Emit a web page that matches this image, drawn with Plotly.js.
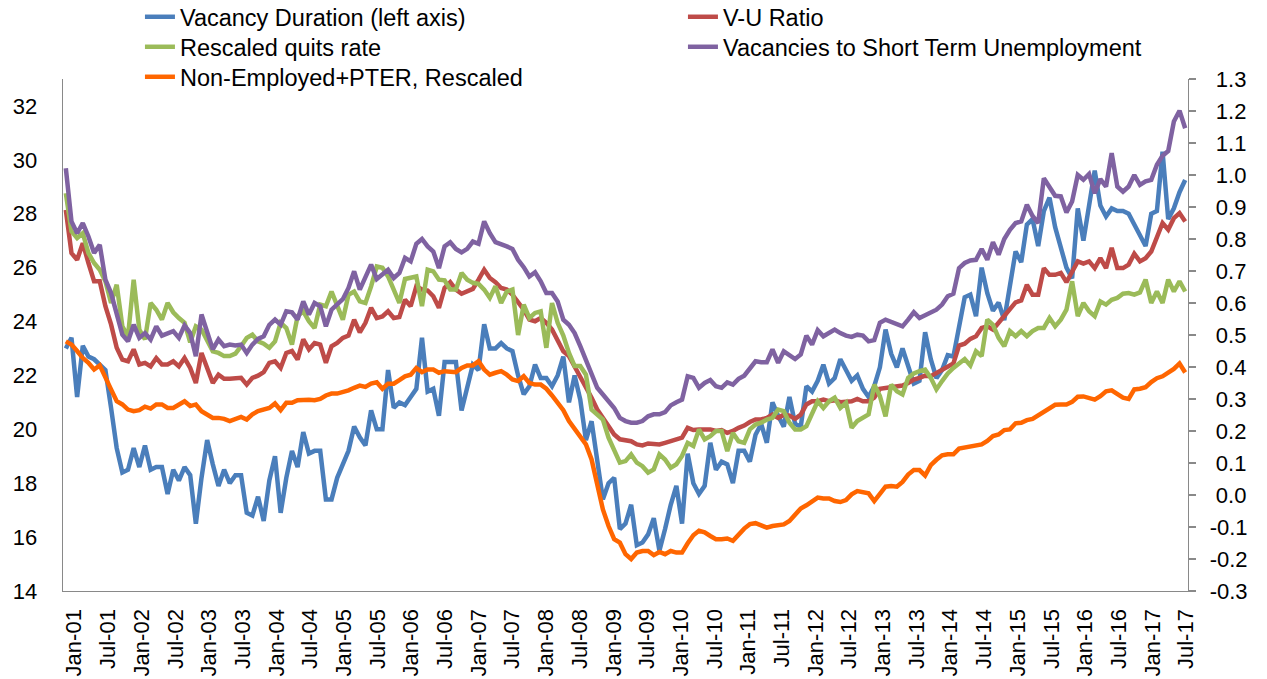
<!DOCTYPE html>
<html>
<head>
<meta charset="utf-8">
<script src="https://cdn.plot.ly/plotly-3.0.1.min.js"></script>
<style>
  html, body { margin: 0; padding: 0; background: #ffffff; }
  #chart { width: 1267px; height: 679px; }
</style>
</head>
<body>
<div id="chart"></div>
<script>
// Monthly observations, Jan-2001 .. Jul-2017 (199 months)
const vacancyDuration = [
  23.0,23.4,21.2,23.1,22.7,22.6,22.4,22.2,20.8,19.3,18.4,18.5,19.3,18.6,19.4,18.5,18.6,18.6,17.6,18.5,
  18.1,18.6,18.3,16.5,18.2,19.6,18.7,17.9,18.5,18.0,18.3,18.3,16.9,16.8,17.5,16.6,18.1,19.0,16.9,18.2,
  19.2,18.6,19.9,19.1,19.2,19.2,17.4,17.4,18.2,18.7,19.2,20.1,19.7,19.4,20.7,20.0,20.0,22.2,20.8,21.0,
  20.9,21.2,21.5,23.4,21.4,21.5,20.5,22.5,22.5,22.5,20.7,21.5,22.4,22.2,23.9,23.0,23.0,23.2,23.0,22.9,
  22.0,21.3,21.6,22.4,21.9,21.9,21.6,22.0,22.7,21.0,22.0,21.1,19.6,20.3,18.7,17.4,18.0,18.2,16.3,16.5,
  17.2,15.7,15.8,16.1,16.7,15.5,16.3,17.2,17.9,16.5,19.1,18.0,17.6,17.9,19.5,18.5,18.8,18.7,18.0,19.2,
  19.2,18.8,19.8,20.2,19.5,21.0,20.5,20.1,21.2,20.2,20.1,21.6,21.4,21.8,22.4,21.7,21.9,22.6,22.2,21.8,
  22.0,21.5,21.2,21.6,22.3,23.7,22.8,22.3,23.0,22.3,21.7,21.8,23.6,22.6,21.9,22.2,22.75,22.7,23.9,24.9,
  25.0,24.2,26.0,25.05,24.4,24.7,24.05,25.4,26.6,26.2,27.6,27.8,26.8,28.1,28.6,27.5,26.7,26.0,25.6,28.2,
  27.0,28.2,29.6,28.3,27.9,28.2,28.1,28.1,28.0,27.6,27.2,26.8,28.0,28.1,30.3,27.8,28.2,28.8,29.25
];
const vuRatio = [
  0.891,0.756,0.735,0.787,0.725,0.668,0.668,0.590,0.533,0.460,0.423,0.418,0.455,0.408,0.413,0.402,0.428,0.408,0.408,0.418,
  0.402,0.428,0.397,0.350,0.444,0.397,0.350,0.376,0.363,0.363,0.363,0.366,0.345,0.366,0.373,0.384,0.413,0.418,0.397,0.444,
  0.450,0.423,0.486,0.455,0.475,0.470,0.413,0.465,0.475,0.491,0.498,0.548,0.508,0.538,0.585,0.553,0.558,0.574,0.553,0.556,
  0.610,0.590,0.652,0.642,0.639,0.621,0.585,0.647,0.665,0.642,0.629,0.636,0.644,0.673,0.704,0.678,0.665,0.647,0.642,0.626,
  0.605,0.579,0.548,0.543,0.553,0.538,0.517,0.486,0.449,0.434,0.403,0.371,0.340,0.304,0.267,0.241,0.215,0.189,0.174,0.171,
  0.168,0.158,0.155,0.161,0.161,0.158,0.163,0.168,0.174,0.179,0.210,0.203,0.205,0.205,0.205,0.200,0.203,0.194,0.200,0.210,
  0.217,0.228,0.236,0.236,0.241,0.251,0.241,0.251,0.248,0.238,0.251,0.283,0.293,0.293,0.298,0.293,0.296,0.290,0.293,0.293,
  0.300,0.293,0.293,0.304,0.332,0.335,0.338,0.340,0.342,0.350,0.361,0.366,0.373,0.371,0.381,0.392,0.402,0.411,0.467,0.473,
  0.488,0.496,0.522,0.527,0.517,0.538,0.559,0.585,0.602,0.608,0.657,0.626,0.626,0.709,0.688,0.688,0.694,0.665,0.696,0.730,
  0.723,0.730,0.709,0.740,0.709,0.772,0.709,0.709,0.720,0.754,0.730,0.740,0.761,0.808,0.850,0.829,0.865,0.881,0.855
];
const quitsRescaled = [
  0.943,0.824,0.803,0.818,0.756,0.725,0.704,0.668,0.600,0.657,0.527,0.496,0.673,0.517,0.486,0.600,0.579,0.548,0.600,0.571,
  0.553,0.538,0.477,0.527,0.517,0.480,0.449,0.444,0.434,0.434,0.442,0.465,0.491,0.501,0.480,0.473,0.460,0.480,0.538,0.522,
  0.470,0.559,0.574,0.543,0.522,0.595,0.590,0.636,0.590,0.548,0.626,0.636,0.605,0.600,0.652,0.714,0.710,0.683,0.642,0.600,
  0.675,0.678,0.683,0.590,0.704,0.699,0.673,0.671,0.642,0.642,0.694,0.673,0.663,0.660,0.642,0.616,0.652,0.600,0.636,0.642,
  0.500,0.595,0.553,0.569,0.574,0.460,0.600,0.538,0.498,0.444,0.403,0.403,0.376,0.267,0.252,0.236,0.179,0.137,0.101,0.106,
  0.127,0.101,0.090,0.070,0.080,0.127,0.111,0.085,0.096,0.122,0.163,0.153,0.205,0.174,0.184,0.200,0.200,0.137,0.194,0.168,
  0.163,0.205,0.220,0.226,0.236,0.241,0.267,0.262,0.226,0.205,0.205,0.215,0.252,0.293,0.272,0.293,0.304,0.272,0.288,0.210,
  0.231,0.241,0.252,0.345,0.309,0.246,0.345,0.324,0.314,0.366,0.380,0.387,0.392,0.366,0.330,0.356,0.380,0.397,0.411,0.425,
  0.405,0.449,0.434,0.548,0.532,0.491,0.465,0.512,0.496,0.512,0.496,0.512,0.522,0.522,0.553,0.527,0.548,0.579,0.668,0.559,
  0.600,0.574,0.559,0.605,0.595,0.610,0.616,0.629,0.631,0.626,0.633,0.673,0.600,0.636,0.600,0.673,0.636,0.668,0.636
];
const vacToShortUnemp = [
  1.021,0.855,0.818,0.850,0.808,0.756,0.782,0.673,0.631,0.559,0.501,0.480,0.532,0.491,0.506,0.486,0.527,0.498,0.506,0.512,
  0.491,0.530,0.506,0.434,0.564,0.512,0.455,0.486,0.465,0.470,0.467,0.470,0.444,0.470,0.488,0.496,0.532,0.548,0.532,0.574,
  0.571,0.548,0.605,0.564,0.600,0.590,0.527,0.579,0.595,0.612,0.647,0.699,0.642,0.683,0.720,0.675,0.688,0.704,0.678,0.694,
  0.741,0.730,0.785,0.800,0.777,0.761,0.709,0.777,0.790,0.769,0.758,0.769,0.792,0.785,0.855,0.818,0.790,0.785,0.777,0.769,
  0.735,0.712,0.683,0.696,0.668,0.631,0.631,0.605,0.548,0.532,0.506,0.465,0.423,0.381,0.335,0.314,0.293,0.272,0.241,0.231,
  0.226,0.226,0.231,0.246,0.252,0.252,0.259,0.280,0.290,0.298,0.371,0.366,0.335,0.350,0.359,0.340,0.335,0.352,0.345,0.363,
  0.373,0.394,0.418,0.415,0.415,0.455,0.413,0.449,0.439,0.425,0.439,0.498,0.470,0.515,0.496,0.506,0.517,0.506,0.498,0.494,
  0.501,0.498,0.480,0.484,0.538,0.548,0.540,0.533,0.527,0.548,0.571,0.553,0.563,0.572,0.579,0.595,0.621,0.629,0.709,0.725,
  0.733,0.735,0.769,0.735,0.790,0.751,0.800,0.829,0.850,0.855,0.907,0.872,0.850,0.990,0.959,0.935,0.933,0.883,0.917,1.000,
  0.985,1.003,0.943,0.987,0.964,1.068,0.964,0.948,0.964,1.000,0.969,0.980,0.985,1.032,1.060,1.075,1.167,1.201,1.146
];
const nonEmployedPter = [
  0.480,0.470,0.450,0.428,0.413,0.392,0.405,0.371,0.330,0.293,0.283,0.267,0.262,0.265,0.276,0.270,0.283,0.283,0.272,0.272,
  0.283,0.293,0.278,0.283,0.262,0.252,0.241,0.241,0.238,0.231,0.238,0.244,0.236,0.252,0.262,0.267,0.272,0.286,0.265,0.288,
  0.288,0.296,0.298,0.298,0.296,0.300,0.311,0.317,0.317,0.321,0.327,0.335,0.342,0.338,0.348,0.352,0.332,0.348,0.348,0.359,
  0.371,0.376,0.397,0.384,0.392,0.392,0.382,0.387,0.387,0.384,0.397,0.405,0.405,0.418,0.392,0.376,0.382,0.387,0.376,0.361,
  0.356,0.371,0.350,0.345,0.345,0.332,0.311,0.286,0.265,0.231,0.207,0.184,0.158,0.111,0.038,-0.045,-0.097,-0.138,-0.149,-0.185,
  -0.200,-0.180,-0.175,-0.175,-0.188,-0.178,-0.185,-0.175,-0.180,-0.180,-0.151,-0.126,-0.112,-0.117,-0.128,-0.138,-0.138,-0.136,-0.143,-0.122,
  -0.105,-0.091,-0.088,-0.095,-0.102,-0.097,-0.093,-0.092,-0.081,-0.060,-0.042,-0.032,-0.022,-0.008,-0.011,-0.011,-0.019,-0.022,-0.016,0.002,
  0.012,0.009,0.005,-0.019,0.002,0.026,0.028,0.026,0.041,0.064,0.078,0.078,0.061,0.093,0.110,0.124,0.127,0.127,0.145,0.148,
  0.151,0.157,0.158,0.169,0.184,0.189,0.203,0.205,0.224,0.226,0.234,0.238,0.248,0.262,0.272,0.282,0.283,0.283,0.291,0.307,
  0.308,0.303,0.298,0.309,0.324,0.327,0.314,0.304,0.300,0.330,0.332,0.337,0.353,0.365,0.371,0.383,0.394,0.411,0.383
];

// Category tick labels (every 6 months)
const tickLabels = [
  "Jan-01","Jul-01","Jan-02","Jul-02","Jan-03","Jul-03","Jan-04","Jul-04","Jan-05","Jul-05",
  "Jan-06","Jul-06","Jan-07","Jul-07","Jan-08","Jul-08","Jan-09","Jul-09","Jan-10","Jul-10",
  "Jan-11","Jul-11","Jan-12","Jul-12","Jan-13","Jul-13","Jan-14","Jul-14","Jan-15","Jul-15",
  "Jan-16","Jul-16","Jan-17","Jul-17"
];
const leftTicks = [14,16,18,20,22,24,26,28,30,32];
const rightTicks = [-0.3,-0.2,-0.1,0.0,0.1,0.2,0.3,0.4,0.5,0.6,0.7,0.8,0.9,1.0,1.1,1.2,1.3];

const seriesNames = [
  "Vacancy Duration (left axis)",
  "V-U Ratio",
  "Rescaled quits rate",
  "Vacancies to Short Term Unemployment",
  "Non-Employed+PTER, Rescaled"
];

const months = vacancyDuration.map((_, i) => i);
const FONT = "Liberation Sans, Arial, sans-serif";
const LW = 4.5;

// label placement along the category axis (labels sit slightly right of the month points)
const labelPos = i => 1.5 + i * 5.96;
// right-axis labels are right-aligned: pad non-negative values with a hyphen-wide space
const rightLabel = v => (v < 0 ? "" : "\u2008") + v.toFixed(1);

const traces = [
  {x: months, y: vacancyDuration, name: seriesNames[0], yaxis: "y",  legend: "legend",  type: "scatter", mode: "lines", line: {color: "#4A7EBB", width: LW}},
  {x: months, y: vuRatio,         name: seriesNames[1], yaxis: "y2", legend: "legend",  type: "scatter", mode: "lines", line: {color: "#BE4B48", width: LW}},
  {x: months, y: quitsRescaled,   name: seriesNames[2], yaxis: "y2", legend: "legend2", type: "scatter", mode: "lines", line: {color: "#9BBB59", width: LW}},
  {x: months, y: vacToShortUnemp, name: seriesNames[3], yaxis: "y2", legend: "legend2", type: "scatter", mode: "lines", line: {color: "#7F62A1", width: LW}},
  {x: months, y: nonEmployedPter, name: seriesNames[4], yaxis: "y2", legend: "legend3", type: "scatter", mode: "lines", line: {color: "#FF6600", width: LW}}
];

const axisColor = "#898989";
const clear = "rgba(0,0,0,0)";
const legendFont = {family: FONT, size: 23.5, color: "#000000"};
const legendRow = y => ({
  orientation: "h", x: 0.0684, xanchor: "left", y: y, yanchor: "middle",
  entrywidth: 498, entrywidthmode: "pixels",
  font: legendFont, bgcolor: clear, borderwidth: 0
});

const layout = {
  width: 1267, height: 679,
  margin: {l: 63, r: 79, t: 79, b: 88, pad: 0, autoexpand: false},
  paper_bgcolor: "#ffffff", plot_bgcolor: "#ffffff",
  font: {family: FONT, color: "#000000", size: 22},
  showlegend: true,
  legend:  legendRow(1.1211),
  legend2: legendRow(1.0625),
  legend3: legendRow(1.0039),
  xaxis: {
    range: [-0.5, 198.5],
    tickmode: "array", tickvals: tickLabels.map((_, i) => labelPos(i)), ticktext: tickLabels,
    tickangle: -90, tickfont: {family: FONT, size: 22, color: "#000000"},
    showline: true, linecolor: axisColor, linewidth: 1.3,
    ticks: "outside", ticklen: 8, tickcolor: clear,
    showgrid: false, zeroline: false, fixedrange: true
  },
  yaxis: {
    range: [14, 33],
    tickmode: "array", tickvals: leftTicks, ticktext: leftTicks.map(String),
    tickfont: {family: FONT, size: 22, color: "#000000"},
    showline: true, linecolor: axisColor, linewidth: 1.3,
    ticks: "outside", ticklen: 20, tickcolor: clear,
    showgrid: false, zeroline: false, fixedrange: true
  },
  yaxis2: {
    range: [-0.3, 1.3], overlaying: "y", side: "right",
    tickmode: "array", tickvals: rightTicks, ticktext: rightTicks.map(rightLabel),
    tickfont: {family: FONT, size: 22, color: "#000000"},
    showline: true, linecolor: axisColor, linewidth: 1.3,
    ticks: "outside", ticklen: 7, tickcolor: axisColor, tickwidth: 1.3,
    ticklabelstandoff: 9,
    showgrid: false, zeroline: false, fixedrange: true
  }
};

Plotly.newPlot("chart", traces, layout, {displayModeBar: false, staticPlot: true});
</script>
</body>
</html>
